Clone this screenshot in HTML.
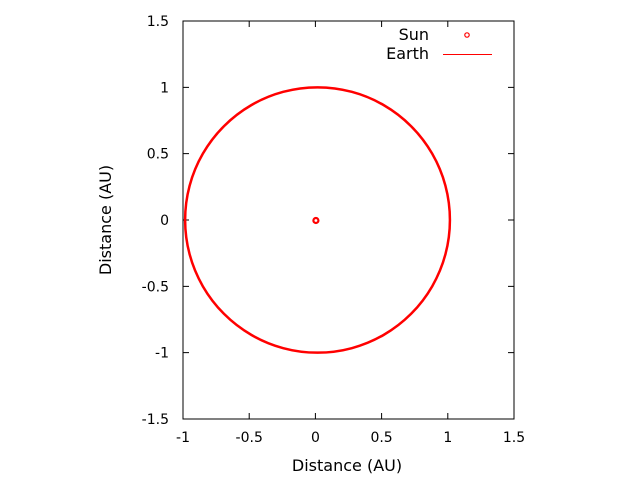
<!DOCTYPE html>
<html><head><meta charset="utf-8"><style>
body{margin:0;background:#fff;}
svg text{font-family:"DejaVu Sans",sans-serif;font-size:14px;fill:#000;}
svg text.big{font-size:16px;}
</style></head><body>
<svg id="chart" width="640" height="480" xmlns="http://www.w3.org/2000/svg"></svg>
<script>
const xTicks=[-1,-0.5,0,0.5,1,1.5];
const yTicks=[-1.5,-1,-0.5,0,0.5,1,1.5];
const xTickLabels=["-1","-0.5","0","0.5","1","1.5"];
const yTickLabels=["-1.5","-1","-0.5","0","0.5","1","1.5"];
const sunX=[0];
const sunY=[0];
const earthX=[1.016,0.982,0.882,0.723,0.516,0.275,0.016,-0.243,-0.484,-0.691,-0.850,-0.950,-0.984,-0.950,-0.850,-0.691,-0.484,-0.243,0.016,0.275,0.516,0.723,0.882,0.982,1.016];
const earthY=[0,0.259,0.5,0.707,0.866,0.966,1,0.966,0.866,0.707,0.5,0.259,0,-0.259,-0.5,-0.707,-0.866,-0.966,-1,-0.966,-0.866,-0.707,-0.5,-0.259,0];
const L=183,R=514,T=21,B=419,xmin=-1,xmax=1.5,ymin=-1.5,ymax=1.5;
const sx=v=>L+(v-xmin)/(xmax-xmin)*(R-L);
const sy=v=>B-(v-ymin)/(ymax-ymin)*(B-T);
const svg=document.getElementById('chart');
const NS='http://www.w3.org/2000/svg';
function mk(tag,attrs,parent){const e=document.createElementNS(NS,tag);for(const k in attrs)e.setAttribute(k,attrs[k]);(parent||svg).appendChild(e);return e;}
const frame=mk('rect',{x:L,y:T,width:R-L,height:B-T,fill:'none',stroke:'#000','stroke-width':1});


xTicks.forEach((v,i)=>{const x=sx(v);
const t1=mk('path',{d:`M${x},${B}v-6M${x},${T}v6`,stroke:'#000'});


const tx=mk('text',{x:x,y:B+23,'text-anchor':'middle'});tx.textContent=xTickLabels[i];

});
yTicks.forEach((v,i)=>{const y=sy(v);
const t1=mk('path',{d:`M${L},${y}h6M${R},${y}h-6`,stroke:'#000'});


const tx=mk('text',{x:L-14,y:y+5,'text-anchor':'end'});tx.textContent=yTickLabels[i];

});
const xt=mk('text',{x:347,y:471,'text-anchor':'middle','class':'big'});xt.textContent='Distance (AU)';


const yt=mk('text',{x:111,y:220,'text-anchor':'middle','class':'big',transform:'rotate(-90 111 220)'});yt.textContent='Distance (AU)';


const pts=earthX.map((x,i)=>[sx(x),sy(earthY[i])]);
let d=`M${pts[0][0]},${pts[0][1]}`;
const n=pts.length-1;
for(let i=0;i<n;i++){const p0=pts[(i-1+n)%n],p1=pts[i],p2=pts[i+1],p3=pts[(i+2)%n];
d+=`C${p1[0]+(p2[0]-p0[0])/6},${p1[1]+(p2[1]-p0[1])/6} ${p2[0]-(p3[0]-p1[0])/6},${p2[1]-(p3[1]-p1[1])/6} ${p2[0]},${p2[1]}`;}
const orbit=mk('path',{d:d,fill:'none',stroke:'#f00','stroke-width':2.5});


sunX.forEach((x,i)=>{const c=mk('circle',{cx:sx(x)+0.5,cy:sy(sunY[i])+0.5,r:2.5,fill:'none',stroke:'#f00','stroke-width':2.2});

});
const l1=mk('text',{x:429,y:40,'text-anchor':'end','class':'big'});l1.textContent='Sun';


const lm=mk('circle',{cx:467,cy:35,r:2.2,fill:'none',stroke:'#f00','stroke-width':1.2});


const l2=mk('text',{x:429,y:59,'text-anchor':'end','class':'big'});l2.textContent='Earth';


const ll=mk('path',{d:'M443,54.5h49',stroke:'#f00','stroke-width':1});


</script>
</body></html>
